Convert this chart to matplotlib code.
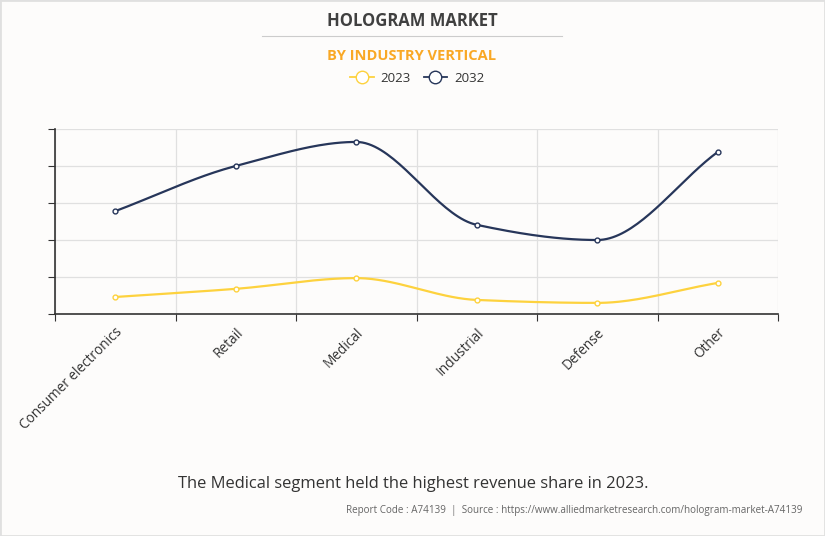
import numpy as np
import matplotlib
matplotlib.use("Agg")
import matplotlib.pyplot as plt
from matplotlib.lines import Line2D

plt.rcParams['font.family'] = ['Open Sans', 'DejaVu Sans']

categories = ['Consumer electronics', 'Retail', 'Medical', 'Industrial', 'Defense', 'Other']
values_2023 = [0.46, 0.68, 0.97, 0.38, 0.30, 0.84]
values_2032 = [2.78, 4.00, 4.65, 2.41, 2.00, 4.38]


def monotone(x, y, n=40):
    # monotone cubic (pchip-like) just for drawing the smooth line
    x = np.asarray(x, float)
    y = np.asarray(y, float)
    h = np.diff(x)
    d = np.diff(y) / h
    m = np.zeros_like(y)
    m[0], m[-1] = d[0], d[-1]
    for i in range(1, len(y) - 1):
        if d[i - 1] * d[i] <= 0:
            m[i] = 0
        else:
            m[i] = 2 / (1 / d[i - 1] + 1 / d[i])
    xs, ys = [], []
    for i in range(len(h)):
        t = np.linspace(0, 1, n)
        h00 = 2 * t**3 - 3 * t**2 + 1
        h10 = t**3 - 2 * t**2 + t
        h01 = -2 * t**3 + 3 * t**2
        h11 = t**3 - t**2
        xs.append(x[i] + t * h[i])
        ys.append(h00 * y[i] + h10 * h[i] * m[i] + h01 * y[i + 1] + h11 * h[i] * m[i + 1])
    return np.concatenate(xs), np.concatenate(ys)


fig = plt.figure(figsize=(8.25, 5.36), dpi=100, facecolor='#fdfcfb')
ax = fig.add_axes([55 / 825, 1 - 314 / 536, (778 - 55) / 825, (314 - 129) / 536])
ax.set_facecolor('#fdfcfb')

x = np.arange(len(categories))
c23 = '#fdd23e'
c32 = '#27365a'
for vals, col in [(values_2023, c23), (values_2032, c32)]:
    sx, sy = monotone(x, vals)
    ax.plot(sx, sy, color=col, lw=1.6, zorder=3)
    ax.plot(x, vals, 'o', ms=3.5, mfc='white', mec=col, mew=1.0, zorder=4)

ax.set_xlim(-0.5, len(categories) - 0.5)
ax.set_ylim(0, 5)
ax.set_xticks(np.arange(-0.5, len(categories)), minor=False)
ax.set_xticklabels([])
ax.set_xticks(x, minor=True)
ax.set_xticklabels(categories, minor=True, rotation=45, ha='right', rotation_mode='anchor',
                   fontsize=9.8, color='#333333')
ax.tick_params(axis='x', which='minor', length=0, pad=8)
ax.tick_params(axis='x', which='major', length=5, color='#333333')
ax.set_yticks(np.arange(0, 6))
ax.set_yticklabels([])
ax.tick_params(axis='y', length=5, color='#333333')
ax.grid(True, which='major', color='#e0e0e0', lw=0.9)
ax.set_axisbelow(True)
for s in ['top', 'right']:
    ax.spines[s].set_visible(False)
for s in ['left', 'bottom']:
    ax.spines[s].set_color('#333333')
    ax.spines[s].set_linewidth(1.2)

fig.text(412 / 825, 1 - 21 / 536, 'HOLOGRAM MARKET', ha='center', va='center',
         fontsize=12, fontweight='bold', color='#404040')
fig.add_artist(Line2D([262 / 825, 562 / 825], [1 - 36 / 536] * 2, color='#cccccc', lw=0.8))
fig.text(412 / 825, 1 - 56 / 536, 'BY INDUSTRY VERTICAL', ha='center', va='center',
         fontsize=10.5, fontweight='bold', color='#f9a825')

handles = [Line2D([], [], color=c23, lw=1.3, marker='o', ms=9, mfc='white', mec=c23),
           Line2D([], [], color=c32, lw=1.3, marker='o', ms=9, mfc='white', mec=c32)]
fig.legend(handles, ['2023', '2032'], loc='center', bbox_to_anchor=(417 / 825, 1 - 78 / 536),
           ncol=2, frameon=False, fontsize=9.5, handlelength=1.8, columnspacing=1.0,
           handletextpad=0.5, labelcolor='#333333')

fig.text(413 / 825, 1 - 484 / 536, 'The Medical segment held the highest revenue share in 2023.',
         ha='center', va='center', fontsize=11.9, color='#333333')
fig.text(802 / 825, 1 - 511 / 536,
         'Report Code : A74139  |  Source : https://www.alliedmarketresearch.com/hologram-market-A74139',
         ha='right', va='center', fontsize=7.15, color='#666666')

fig.add_artist(plt.Rectangle((0, 0), 1, 1, transform=fig.transFigure, fill=False,
                             edgecolor='#e0e0e0', lw=2))

fig.savefig('out.png', dpi=100, facecolor=fig.get_facecolor())
